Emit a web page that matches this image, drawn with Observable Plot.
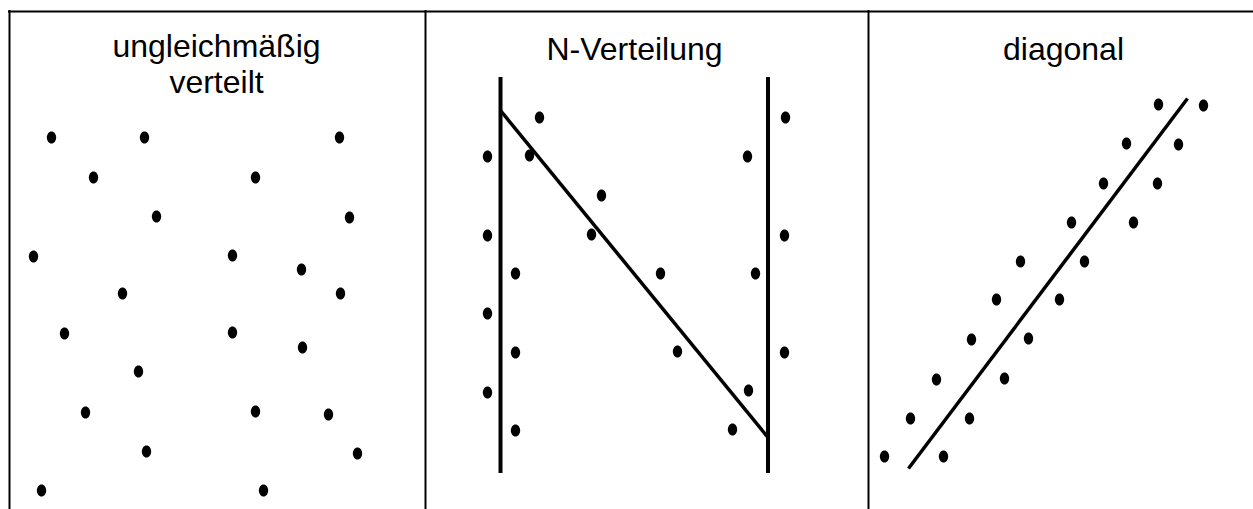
<!DOCTYPE html>
<html>
<head>
<meta charset="utf-8">
<script src="https://cdn.jsdelivr.net/npm/d3@7"></script>
<script src="https://cdn.jsdelivr.net/npm/@observablehq/plot@0.6"></script>
<style>
  html, body { margin: 0; padding: 0; background: #fff; }
  #chart svg { display: block; }
</style>
</head>
<body>
<div id="chart"></div>
<script>
// Panel titles
const titles = ["ungleichmäßig\nverteilt", "N-Verteilung", "diagonal"];
const titleX = [216, 634, 1063];
const titleY = [92, 59, 59];

// Panel frame
const dividerX = [9, 425, 868];
const topY = 11;

// Panel 1: uneven distribution
const p1x = [51, 144, 339, 93, 255, 156, 349, 33, 232, 301, 122, 340, 64, 232, 302, 138, 85, 255, 328, 146, 357, 41, 263];
const p1y = [137, 137, 137, 177, 177, 216, 217, 256, 255, 269, 293, 293, 333, 332, 347, 371, 412, 411, 414, 451, 453, 490, 490];

// Panel 2: N distribution
const p2x = [487, 539, 529, 601, 487, 591, 515, 660, 755, 785, 747, 784, 487, 515, 677, 784, 487, 748, 515, 732];
const p2y = [156, 117, 155, 195, 235, 234, 273, 273, 273, 117, 156, 235, 313, 352, 351, 352, 392, 390, 430, 429];
const nVerticalX = [500, 767.5];
const nVerticalY = [77, 473];
const nDiagX = [500, 767.5];
const nDiagY = [110, 437];

// Panel 3: diagonal
const p3x = [884, 943, 910, 969, 936, 1004, 971, 1028, 996, 1059, 1020, 1084, 1071, 1133, 1103, 1157, 1126, 1178, 1158, 1203];
const p3y = [456, 456, 418, 418, 379, 378, 339, 338, 299, 299, 261, 261, 222, 222, 183, 183, 143, 144, 104, 105];
const dDiagX = [908, 1187];
const dDiagY = [468, 98];

const W = 1253, H = 509;

const dots = [
  ...p1x.map((x, i) => ({x, y: p1y[i]})),
  ...p2x.map((x, i) => ({x, y: p2y[i]})),
  ...p3x.map((x, i) => ({x, y: p3y[i]}))
];
const links = [
  {x1: nDiagX[0], y1: nDiagY[0], x2: nDiagX[1], y2: nDiagY[1]},
  {x1: dDiagX[0], y1: dDiagY[0], x2: dDiagX[1], y2: dDiagY[1]}
];
const titleData = titles.map((t, i) => ({t, x: titleX[i], y: titleY[i]}));

// elliptical dot symbol (slightly taller than wide)
const ellipse = {
  draw(ctx, size) {
    const r = Math.sqrt(size / Math.PI);
    const rx = 0.78 * r, ry = r, k = 0.5523;
    ctx.moveTo(rx, 0);
    ctx.bezierCurveTo(rx, k * ry, k * rx, ry, 0, ry);
    ctx.bezierCurveTo(-k * rx, ry, -rx, k * ry, -rx, 0);
    ctx.bezierCurveTo(-rx, -k * ry, -k * rx, -ry, 0, -ry);
    ctx.bezierCurveTo(k * rx, -ry, rx, -k * ry, rx, 0);
    ctx.closePath();
  }
};

const chart = Plot.plot({
  width: W,
  height: H,
  margin: 0,
  style: {background: "#fff", overflow: "visible"},
  x: {domain: [0, W], axis: null},
  y: {domain: [0, H], reverse: true, axis: null},
  marks: [
    Plot.ruleY([topY], {x1: 8, x2: W, stroke: "#000", strokeWidth: 2}),
    Plot.ruleX(dividerX, {y1: topY - 1, y2: H, stroke: "#000", strokeWidth: 2}),
    Plot.ruleX(nVerticalX, {y1: nVerticalY[0], y2: nVerticalY[1], stroke: "#000", strokeWidth: 4}),
    Plot.link(links, {x1: "x1", y1: "y1", x2: "x2", y2: "y2", stroke: "#000", strokeWidth: 3.5}),
    Plot.dot(dots, {x: "x", y: "y", r: 6, symbol: ellipse, fill: "#000", stroke: "none"}),
    Plot.text(titleData, {
      x: "x", y: "y", text: "t",
      textAnchor: "middle", lineAnchor: "bottom", lineHeight: 1.1,
      fontSize: 32, fontFamily: "Liberation Sans, Arial, sans-serif", fill: "#000"
    })
  ]
});
document.getElementById("chart").appendChild(chart);
</script>
</body>
</html>
